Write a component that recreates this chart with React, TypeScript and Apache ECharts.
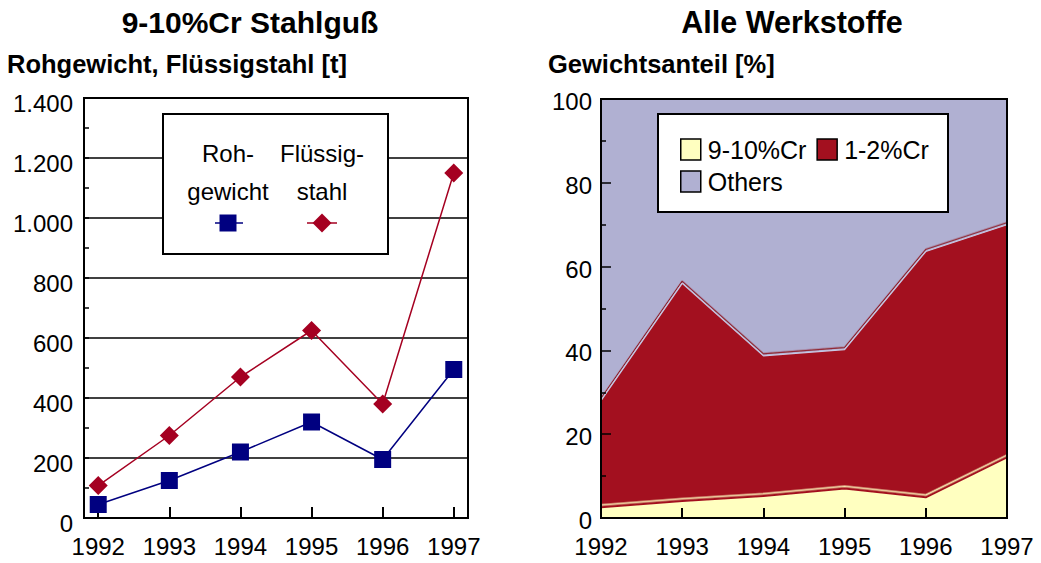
import React, { useEffect, useRef } from 'react';
import * as echarts from 'echarts';

// ---- data ----
const years = [1992, 1993, 1994, 1995, 1996, 1997];
const yearLabels = ['1992', '1993', '1994', '1995', '1996', '1997'];
const rohgewicht = [45, 125, 220, 320, 195, 495];
const fluessigstahl = [108, 275, 470, 625, 380, 1150];
const share910Cr = [2.5, 4, 5.2, 7, 4.9, 14.4];
const share12Cr = [25.5, 52, 33.5, 33.2, 58.7, 55.6];
const shareOthers = [72, 44, 61.3, 59.8, 36.4, 30];

const FONT = 'Liberation Sans, Arial, Helvetica, sans-serif';
const NAVY = '#000080';
const DARKRED = '#a3101f';
const LINE_RED = '#a50021';
const CREAM = '#ffffc0';
const LAVENDER = '#b0b0d2';

const fmtThousands = (v: number) =>
  v >= 1000 ? Math.floor(v / 1000) + '.' + String(v % 1000).padStart(3, '0') : String(v);

export default function App() {
  const ref = useRef<HTMLDivElement>(null);
  useEffect(() => {
    const chart = echarts.init(ref.current!, null, { renderer: 'svg' });
    const axisLine = { show: true, lineStyle: { color: '#000', width: 2 } };
    const label = { fontSize: 24, color: '#000', fontFamily: FONT };
    const text = (t: string, x: number, y: number, size: number, bold: boolean, align = 'left') => ({
      type: 'text',
      x,
      y,
      z: 100,
      style: {
        text: t,
        fill: '#000',
        fontSize: size,
        fontWeight: bold ? 'bold' : 'normal',
        fontFamily: FONT,
        align,
        verticalAlign: 'middle',
      },
    });
    const legendIcon = (color: string) => ({
      icon: 'rect',
      itemStyle: { color, borderColor: '#000', borderWidth: 1.5 },
    });
    const option: any = {
      animation: false,
      textStyle: { fontFamily: FONT },
      grid: [
        { left: 84, top: 98, width: 384, height: 420, show: true, borderColor: '#000', borderWidth: 2, backgroundColor: 'transparent' },
        { left: 601, top: 99, width: 406, height: 419, show: true, borderColor: '#000', borderWidth: 2, backgroundColor: 'transparent', z: 10 },
      ],
      xAxis: [
        {
          gridIndex: 0,
          type: 'value',
          min: 1991.8,
          max: 1997.2,
          axisLine,
          axisTick: { show: true, inside: true, length: 11, customValues: years, lineStyle: { color: '#000', width: 2 } },
          axisLabel: { ...label, margin: 16, customValues: years, formatter: (v: number) => String(v) },
          splitLine: { show: false },
        },
        {
          gridIndex: 1,
          type: 'category',
          data: yearLabels,
          boundaryGap: false,
          z: 10,
          axisLine,
          axisTick: { show: true, inside: true, length: 10, lineStyle: { color: '#000', width: 2 } },
          axisLabel: { ...label, margin: 16, interval: 0 },
          splitLine: { show: false },
        },
      ],
      yAxis: [
        {
          gridIndex: 0,
          type: 'value',
          min: 0,
          max: 1400,
          interval: 200,
          axisLine,
          axisTick: { show: true, inside: true, length: 5, lineStyle: { color: '#000', width: 1.5 } },
          minorTick: { show: true, splitNumber: 2, length: 5, lineStyle: { color: '#000', width: 1.5 } },
          splitLine: { show: true, lineStyle: { color: '#000', width: 1.5 } },
          axisLabel: { ...label, margin: 11, verticalAlign: 'top', lineHeight: 10, formatter: fmtThousands },
        },
        {
          gridIndex: 1,
          type: 'value',
          min: 0,
          max: 100,
          interval: 20,
          z: 10,
          axisLine,
          axisTick: { show: true, inside: true, length: 10, lineStyle: { color: '#000', width: 1.5 } },
          minorTick: { show: true, splitNumber: 2, length: 5, lineStyle: { color: '#000', width: 1.5 } },
          splitLine: { show: false },
          axisLabel: { ...label, margin: 9, verticalAlign: 'top', lineHeight: 5 },
        },
      ],
      legend: [
        {
          data: [
            { name: '9-10%Cr', ...legendIcon(CREAM) },
            { name: '1-2%Cr', ...legendIcon(DARKRED) },
          ],
          left: 680,
          top: 137,
          orient: 'horizontal',
          itemWidth: 20,
          itemHeight: 21,
          itemGap: 10,
          padding: 0,
          selectedMode: false,
          z: 110,
          textStyle: { fontSize: 25, color: '#000', fontFamily: FONT, padding: [3, 0, 0, 2] },
        },
        {
          data: [{ name: 'Others', ...legendIcon(LAVENDER) }],
          left: 680,
          top: 169,
          itemWidth: 20,
          itemHeight: 21,
          padding: 0,
          selectedMode: false,
          z: 110,
          textStyle: { fontSize: 25, color: '#000', fontFamily: FONT, padding: [3, 0, 0, 2] },
        },
      ],
      graphic: [
        text('9-10%Cr Stahlguß', 250, 22, 30, true, 'center'),
        text('Rohgewicht, Flüssigstahl [t]', 7, 64, 25.5, true),
        text('Alle Werkstoffe', 792, 22, 30.5, true, 'center'),
        text('Gewichtsanteil [%]', 548, 64, 25.5, true),
        // left legend box
        { type: 'rect', z: 99, shape: { x: 163, y: 114, width: 225, height: 140 }, style: { fill: '#fff', stroke: '#000', lineWidth: 2 } },
        text('Roh-', 228, 153, 24, false, 'center'),
        text('gewicht', 228, 191, 24, false, 'center'),
        text('Flüssig-', 322, 153, 24, false, 'center'),
        text('stahl', 322, 191, 24, false, 'center'),
        { type: 'line', z: 100, shape: { x1: 215, y1: 223, x2: 243, y2: 223 }, style: { stroke: NAVY, lineWidth: 1.5 } },
        { type: 'rect', z: 101, shape: { x: 219.5, y: 214.5, width: 17, height: 17 }, style: { fill: NAVY } },
        { type: 'line', z: 100, shape: { x1: 307, y1: 223, x2: 337, y2: 223 }, style: { stroke: LINE_RED, lineWidth: 1.5 } },
        { type: 'polygon', z: 101, shape: { points: [[322, 213.5], [331.5, 223], [322, 232.5], [312.5, 223]] }, style: { fill: LINE_RED } },
        // right legend box
        { type: 'rect', z: 105, shape: { x: 658, y: 114, width: 290, height: 98 }, style: { fill: '#fff', stroke: '#000', lineWidth: 2 } },
      ],
      series: [
        {
          name: 'Rohgewicht',
          type: 'line',
          xAxisIndex: 0,
          yAxisIndex: 0,
          data: years.map((y, i) => [y, rohgewicht[i]]),
          symbol: 'rect',
          symbolSize: 17,
          itemStyle: { color: NAVY },
          lineStyle: { color: NAVY, width: 1.5 },
          emphasis: { disabled: true },
          z: 3,
        },
        {
          name: 'Flüssigstahl',
          type: 'line',
          xAxisIndex: 0,
          yAxisIndex: 0,
          data: years.map((y, i) => [y, fluessigstahl[i]]),
          symbol: 'diamond',
          symbolSize: [19, 19],
          itemStyle: { color: LINE_RED },
          lineStyle: { color: LINE_RED, width: 1.5 },
          emphasis: { disabled: true },
          z: 3,
        },
        {
          name: '9-10%Cr',
          type: 'line',
          xAxisIndex: 1,
          yAxisIndex: 1,
          stack: 'share',
          data: share910Cr,
          symbol: 'none',
          itemStyle: { color: CREAM },
          areaStyle: { color: CREAM, opacity: 1 },
          lineStyle: { color: DARKRED, width: 1.5, shadowColor: CREAM, shadowOffsetY: -2.5, shadowBlur: 0 },
          emphasis: { disabled: true },
          z: 5,
        },
        {
          name: '1-2%Cr',
          type: 'line',
          xAxisIndex: 1,
          yAxisIndex: 1,
          stack: 'share',
          data: share12Cr,
          symbol: 'none',
          itemStyle: { color: DARKRED },
          areaStyle: { color: DARKRED, opacity: 1 },
          lineStyle: { color: '#c8c8e4', width: 1.2, shadowColor: '#8a0a18', shadowOffsetY: -2.2, shadowBlur: 0 },
          emphasis: { disabled: true },
          z: 4,
        },
        {
          name: 'Others',
          type: 'line',
          xAxisIndex: 1,
          yAxisIndex: 1,
          stack: 'share',
          data: shareOthers,
          symbol: 'none',
          itemStyle: { color: LAVENDER },
          areaStyle: { color: LAVENDER, opacity: 1 },
          lineStyle: { color: NAVY, width: 2 },
          emphasis: { disabled: true },
          z: 3,
        },
      ],
    };
    chart.setOption(option);
    return () => chart.dispose();
  }, []);
  return <div ref={ref} style={{ position: 'absolute', left: 0, top: 0, width: 1041, height: 563 }} />;
}
